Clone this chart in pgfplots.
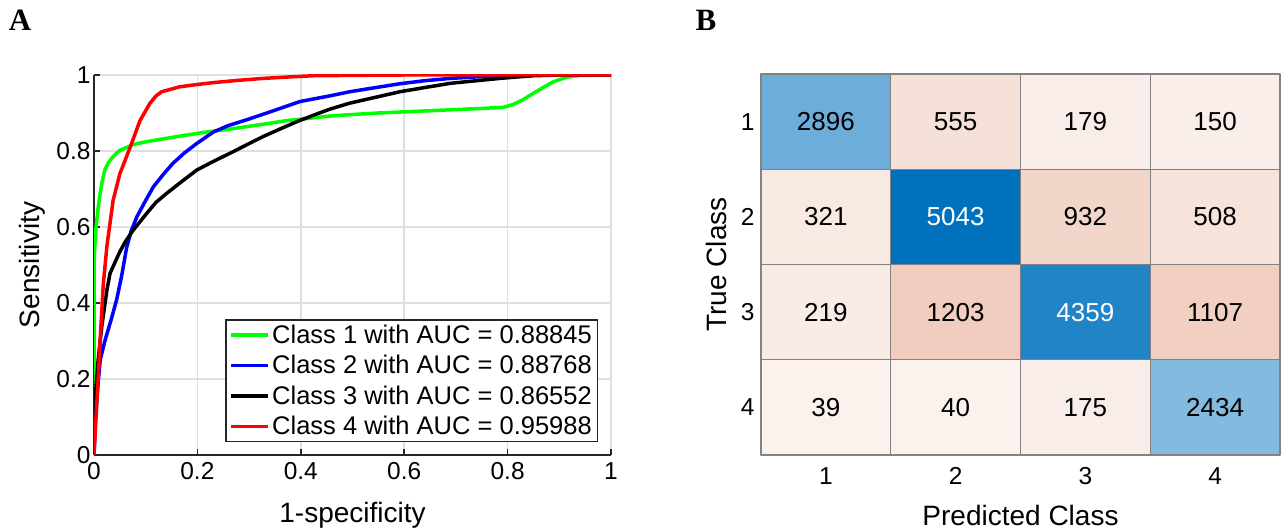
\documentclass[border=0pt]{standalone}
\usepackage{fontspec}
\setmainfont{Liberation Sans}
\newfontfamily\labfont{Liberation Serif}
\usepackage{pgfplots}
\usepgfplotslibrary{patchplots}
\pgfplotsset{compat=1.18}
\newcommand{\fs}{\fontsize{24.5bp}{28bp}\selectfont}
\newcommand{\fl}{\fontsize{25.5bp}{29bp}\selectfont}
\newcommand{\fn}{\fontsize{26bp}{30bp}\selectfont}
\newcommand{\fa}{\fontsize{28bp}{32bp}\selectfont}
\definecolor{gridc}{RGB}{223,223,223}
\definecolor{axc}{RGB}{38,38,38}
\definecolor{cellb}{RGB}{130,130,130}
\pgfplotsset{
  colormap={diagmap}{rgb255(0pt)=(255,255,255) rgb255(5043pt)=(0,114,189)},
  colormap={offmap}{rgb255(0pt)=(251,243,240) rgb255(1203pt)=(240,205,190) rgb255(5043pt)=(217,83,25)},
}
\begin{document}
\begin{tikzpicture}[x=1bp,y=1bp]
\useasboundingbox (0,0) rectangle (1282,530);
\node[font=\labfont\bfseries\fontsize{31bp}{33bp}\selectfont] at (20,510) {A};
\node[font=\labfont\bfseries\fontsize{31bp}{33bp}\selectfont] at (706,510) {B};
% ROC
\begin{axis}[
  at={(94bp,75bp)}, anchor=south west,
  scale only axis, width=517bp, height=380bp,
  xmin=0, xmax=1, ymin=0, ymax=1,
  axis x line*=bottom, axis y line*=left,
  axis line style={axc, line width=1.6bp, -},
  xtick={0,0.2,0.4,0.6,0.8,1}, ytick={0,0.2,0.4,0.6,0.8,1},
  tick align=inside, major tick length=6bp,
  tick style={axc, line width=1.6bp},
  grid=major, major grid style={gridc, line width=1.5bp},
  /pgf/number format/assume math mode=true,
  tick label style={font=\fs},
  xticklabel style={yshift=-4bp},
  xlabel={1-specificity}, ylabel={Sensitivity},
  label style={font=\fa},
  xlabel style={at={(axis description cs:0.5,-0.158)}, anchor=center},
  ylabel style={at={(axis description cs:-0.12,0.5)}, anchor=center},
  legend style={at={(0.975,0.034)}, anchor=south east, draw=axc, line width=1.5bp,
    font=\fl, inner xsep=3bp, inner ysep=4bp, row sep=8.5bp, cells={anchor=west},
    nodes={inner xsep=2.5bp, inner ysep=1bp}},
  legend image code/.code={\draw[#1] (0bp,0bp) -- (37bp,0bp);},
  every axis plot/.append style={line width=3.5bp, line join=round},
]
\addplot[color={rgb,255:red,0;green,255;blue,0}] coordinates {
(0,0) (0,0.3) (0,0.5) (0.002,0.56) (0.004,0.6) (0.008,0.65) (0.012,0.69) (0.016,0.72) (0.021,0.75) (0.028,0.77) (0.037,0.785) (0.05,0.802) (0.076,0.817) (0.1,0.824) (0.134,0.832) (0.17,0.84) (0.218,0.85) (0.26,0.857) (0.295,0.864) (0.34,0.873) (0.373,0.88) (0.41,0.885) (0.456,0.892) (0.5,0.896) (0.55,0.9) (0.6,0.903) (0.65,0.906) (0.7,0.909) (0.75,0.912) (0.792,0.915) (0.81,0.922) (0.83,0.935) (0.85,0.952) (0.87,0.968) (0.888,0.982) (0.914,0.994) (0.94,0.999) (1,1)};
\addlegendentry{Class 1 with AUC = 0.88845}
\addplot[color={rgb,255:red,0;green,0;blue,255}] coordinates {
(0,0) (0.003,0.1) (0.008,0.19) (0.012,0.25) (0.021,0.3) (0.034,0.36) (0.044,0.41) (0.054,0.475) (0.063,0.545) (0.072,0.59) (0.083,0.627) (0.1,0.67) (0.115,0.706) (0.135,0.74) (0.153,0.768) (0.175,0.795) (0.199,0.82) (0.231,0.85) (0.26,0.867) (0.295,0.882) (0.33,0.898) (0.36,0.912) (0.398,0.93) (0.456,0.945) (0.495,0.956) (0.55,0.968) (0.592,0.977) (0.64,0.985) (0.689,0.991) (0.74,0.995) (0.785,0.998) (0.82,1) (1,1)};
\addlegendentry{Class 2 with AUC = 0.88768}
\addplot[color=black] coordinates {
(0,0) (0.002,0.145) (0.008,0.25) (0.015,0.338) (0.025,0.434) (0.031,0.478) (0.04,0.505) (0.05,0.535) (0.06,0.56) (0.076,0.592) (0.102,0.636) (0.12,0.665) (0.141,0.689) (0.17,0.72) (0.199,0.75) (0.23,0.772) (0.263,0.794) (0.295,0.816) (0.327,0.838) (0.36,0.858) (0.392,0.877) (0.43,0.897) (0.456,0.91) (0.495,0.926) (0.55,0.943) (0.592,0.956) (0.64,0.967) (0.689,0.978) (0.74,0.985) (0.785,0.991) (0.82,0.995) (0.85,0.998) (0.9,1) (1,1)};
\addlegendentry{Class 3 with AUC = 0.86552}
\addplot[color={rgb,255:red,255;green,0;blue,0}] coordinates {
(0,0) (0.004,0.1) (0.008,0.2) (0.013,0.33) (0.018,0.45) (0.025,0.55) (0.037,0.67) (0.05,0.74) (0.07,0.81) (0.089,0.88) (0.108,0.925) (0.12,0.945) (0.131,0.956) (0.15,0.963) (0.166,0.969) (0.2,0.975) (0.231,0.98) (0.28,0.986) (0.327,0.991) (0.38,0.995) (0.424,0.998) (0.5,0.999) (0.6,1) (1,1)};
\addlegendentry{Class 4 with AUC = 0.95988}
\end{axis}
% Confusion matrix
\begin{axis}[
  at={(761bp,75bp)}, anchor=south west,
  scale only axis, width=519bp, height=381bp,
  xmin=0.5, xmax=4.5, ymin=0.5, ymax=4.5, y dir=reverse,
  xtick={1,2,3,4}, ytick={1,2,3,4},
  axis line style={draw=none}, tick style={draw=none},
  major tick length=0pt,
  /pgf/number format/assume math mode=true,
  tick label style={font=\fs},
  xticklabel style={yshift=-9bp},
  yticklabel style={xshift=-3bp},
  xlabel={Predicted Class}, ylabel={True Class},
  label style={font=\fa},
  xlabel style={at={(axis description cs:0.5,-0.158)}, anchor=center},
  ylabel style={at={(axis description cs:-0.085,0.5)}, anchor=center},
  point meta min=0, point meta max=5043,
  clip=false,
]
\addplot[patch, patch type=rectangle, shader=faceted, faceted color=cellb, line width=1.3bp,
  colormap name=offmap, point meta=explicit] table[meta=c] {
x y c
1.5 0.5 555
2.5 0.5 555
2.5 1.5 555
1.5 1.5 555
2.5 0.5 179
3.5 0.5 179
3.5 1.5 179
2.5 1.5 179
3.5 0.5 150
4.5 0.5 150
4.5 1.5 150
3.5 1.5 150
0.5 1.5 321
1.5 1.5 321
1.5 2.5 321
0.5 2.5 321
2.5 1.5 932
3.5 1.5 932
3.5 2.5 932
2.5 2.5 932
3.5 1.5 508
4.5 1.5 508
4.5 2.5 508
3.5 2.5 508
0.5 2.5 219
1.5 2.5 219
1.5 3.5 219
0.5 3.5 219
1.5 2.5 1203
2.5 2.5 1203
2.5 3.5 1203
1.5 3.5 1203
3.5 2.5 1107
4.5 2.5 1107
4.5 3.5 1107
3.5 3.5 1107
0.5 3.5 39
1.5 3.5 39
1.5 4.5 39
0.5 4.5 39
1.5 3.5 40
2.5 3.5 40
2.5 4.5 40
1.5 4.5 40
2.5 3.5 175
3.5 3.5 175
3.5 4.5 175
2.5 4.5 175
};
\addplot[patch, patch type=rectangle, shader=faceted, faceted color=cellb, line width=1.3bp,
  colormap name=diagmap, point meta=explicit] table[meta=c] {
x y c
0.5 0.5 2896
1.5 0.5 2896
1.5 1.5 2896
0.5 1.5 2896
1.5 1.5 5043
2.5 1.5 5043
2.5 2.5 5043
1.5 2.5 5043
2.5 2.5 4359
3.5 2.5 4359
3.5 3.5 4359
2.5 3.5 4359
3.5 3.5 2434
4.5 3.5 2434
4.5 4.5 2434
3.5 4.5 2434
};
\addplot[only marks, mark=none, nodes near coords, point meta=explicit symbolic,
  nodes near coords style={font=\fn, anchor=center, text=black}] table[meta=c] {
x y c
1 1 2896
2 1 555
3 1 179
4 1 150
1 2 321
3 2 932
4 2 508
1 3 219
2 3 1203
4 3 1107
1 4 39
2 4 40
3 4 175
4 4 2434
};
\addplot[only marks, mark=none, nodes near coords, point meta=explicit symbolic,
  nodes near coords style={font=\fn, anchor=center, text=white}] table[meta=c] {
x y c
2 2 5043
3 3 4359
};
\end{axis}
\end{tikzpicture}
\end{document}
